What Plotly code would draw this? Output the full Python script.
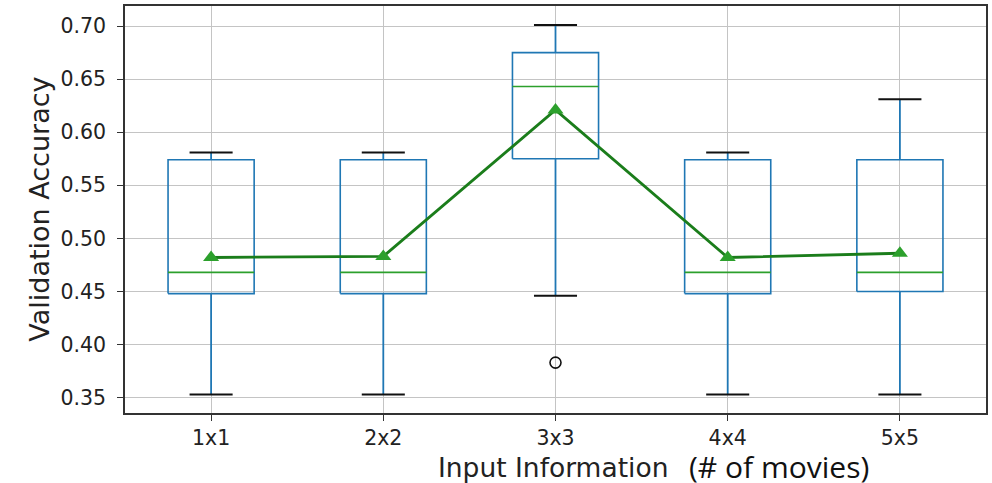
import plotly.graph_objects as go

# Validation accuracy summary per input size
categories = ["1x1", "2x2", "3x3", "4x4", "5x5"]
q1 = [0.448, 0.448, 0.575, 0.448, 0.450]
median = [0.468, 0.468, 0.643, 0.468, 0.468]
q3 = [0.574, 0.574, 0.675, 0.574, 0.574]
whisker_low = [0.353, 0.353, 0.446, 0.353, 0.353]
whisker_high = [0.581, 0.581, 0.701, 0.581, 0.631]
means = [0.482, 0.483, 0.621, 0.482, 0.486]
outlier_cat = ["3x3"]
outlier_val = [0.383]

y_ticks = [0.35, 0.40, 0.45, 0.50, 0.55, 0.60, 0.65, 0.70]

BOX_HALF = 0.25
CAP_HALF = 0.125
BLUE = "#1f77b4"
GREEN = "#2ca02c"
DARK_GREEN = "#1b7d1b"

pos = list(range(len(categories)))

fig = go.Figure()

# Box outlines, medians, whiskers and caps
box_x, box_y = [], []
med_x, med_y = [], []
wh_x, wh_y = [], []
cap_x, cap_y = [], []
for p, a, m, b, lo, hi in zip(pos, q1, median, q3, whisker_low, whisker_high):
    box_x += [p - BOX_HALF, p + BOX_HALF, p + BOX_HALF, p - BOX_HALF, p - BOX_HALF, None]
    box_y += [a, a, b, b, a, None]
    med_x += [p - BOX_HALF, p + BOX_HALF, None]
    med_y += [m, m, None]
    wh_x += [p, p, None, p, p, None]
    wh_y += [a, lo, None, b, hi, None]
    cap_x += [p - CAP_HALF, p + CAP_HALF, None, p - CAP_HALF, p + CAP_HALF, None]
    cap_y += [lo, lo, None, hi, hi, None]

fig.add_trace(go.Scatter(x=wh_x, y=wh_y, mode="lines",
                         line=dict(color=BLUE, width=1.8), hoverinfo="skip"))
fig.add_trace(go.Scatter(x=box_x, y=box_y, mode="lines",
                         line=dict(color=BLUE, width=1.6), hoverinfo="skip"))
fig.add_trace(go.Scatter(x=med_x, y=med_y, mode="lines",
                         line=dict(color=GREEN, width=1.6), hoverinfo="skip"))
fig.add_trace(go.Scatter(x=cap_x, y=cap_y, mode="lines",
                         line=dict(color="#111111", width=2), hoverinfo="skip"))

# Outliers
fig.add_trace(go.Scatter(
    x=[categories.index(c) for c in outlier_cat], y=outlier_val, mode="markers",
    marker=dict(symbol="circle-open", size=11, color="#111111", line=dict(width=1.6)),
    hoverinfo="skip"))

# Mean line with triangle markers
fig.add_trace(go.Scatter(x=pos, y=means, mode="lines",
                         line=dict(color=DARK_GREEN, width=2.8), hoverinfo="skip"))
fig.add_trace(go.Scatter(x=pos, y=means, mode="markers",
                         marker=dict(symbol="triangle-up", size=14, color=GREEN),
                         hoverinfo="skip"))

axis_common = dict(
    showline=True, mirror=True, linecolor="#333333", linewidth=1.6,
    showgrid=True, gridcolor="#c4c4c4", gridwidth=1,
    ticks="outside", ticklen=6, tickwidth=1.3, tickcolor="#333333",
    zeroline=False,
    tickfont=dict(family="DejaVu Sans", size=20.5, color="#222222"),
)

fig.update_layout(
    width=992, height=483,
    margin=dict(l=125, r=4, t=6, b=70),
    paper_bgcolor="white", plot_bgcolor="white",
    showlegend=False,
    xaxis=dict(range=[-0.5, 4.5], tickvals=pos, ticktext=categories,
               ticklabelstandoff=0, **axis_common),
    yaxis=dict(range=[0.3355, 0.7189], tickvals=y_ticks, tickformat=".2f",
               ticklabelstandoff=7, **axis_common),
    annotations=[
        dict(text="Validation Accuracy", xref="paper", yref="paper",
             x=-0.0997, y=0.5, xanchor="center", yanchor="middle", textangle=-90,
             showarrow=False, font=dict(family="DejaVu Sans", size=27, color="#222222")),
        dict(text="Input Information", xref="paper", yref="paper",
             x=0.4973, y=-0.133, xanchor="center", yanchor="middle",
             showarrow=False, font=dict(family="DejaVu Sans", size=26.5, color="#222222")),
        dict(text="(# of movies)", xref="paper", yref="paper",
             x=0.6523, y=-0.131, xanchor="left", yanchor="middle",
             showarrow=False, font=dict(family="Open Sans", size=30, color="#111111")),
    ],
)

fig.write_html("out.html")
